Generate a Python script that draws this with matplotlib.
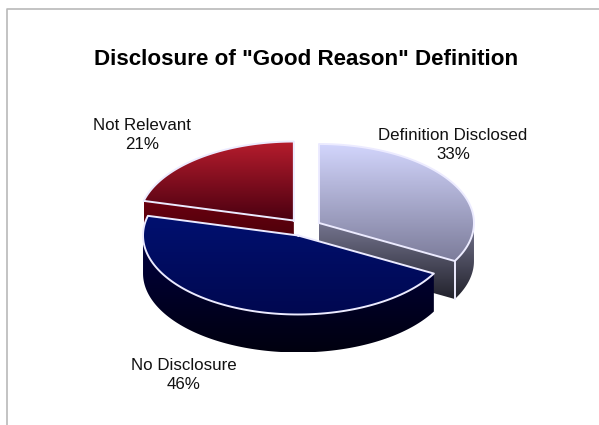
import matplotlib
matplotlib.use("Agg")
import matplotlib.pyplot as plt
import numpy as np
from matplotlib.colors import LinearSegmentedColormap
from matplotlib.patches import Polygon

title = 'Disclosure of "Good Reason" Definition'
labels = ["Definition Disclosed", "No Disclosure", "Not Relevant"]
shares = [33, 46, 21]

# top colour, bottom colour of each gradient
top_faces = [("#d3d6fd", "#7c7c9a"), ("#001070", "#000850"), ("#b51c2d", "#4a0010")]
side_faces = [("#75758f", "#22222c"), ("#000040", "#00000f"), ("#6a0010", "#3c0006")]
edge_color = "#ecebff"

# pie shape in pixels
cx, cy = 304.3, 227.4
rx, ry = 155, 79
depth = 38
explode = 0.11

fig = plt.figure(figsize=(5.99, 4.25), dpi=100)
ax = fig.add_axes([0, 0, 1, 1])


def arc(c, t0, t1):
    t = np.radians(np.linspace(t0, t1, 120))
    return np.column_stack([c[0] + rx * np.sin(t), c[1] - ry * np.cos(t)])


def shade(points, colors, zorder):
    # vertical gradient clipped to a polygon
    patch = Polygon(points, closed=True, facecolor="none", edgecolor="none", zorder=zorder)
    ax.add_patch(patch)
    cmap = LinearSegmentedColormap.from_list("g", colors)
    x0, y0 = points.min(axis=0)
    x1, y1 = points.max(axis=0)
    im = ax.imshow(np.linspace(0, 1, 256).reshape(-1, 1), cmap=cmap, aspect="auto",
                   extent=(x0, x1, y1, y0), zorder=zorder, interpolation="bilinear")
    im.set_clip_path(patch)


def outline(points, zorder):
    ax.plot(points[:, 0], points[:, 1], color=edge_color, lw=1.4, zorder=zorder,
            solid_joinstyle="round")


edges = np.cumsum([0] + shares) * 3.6
centers = []
for i in range(3):
    mid = np.radians((edges[i] + edges[i + 1]) / 2)
    centers.append((cx + explode * rx * np.sin(mid), cy - explode * ry * np.cos(mid)))

down = np.array([0, depth])

# Not Relevant: cut face, then top
c = np.array(centers[2])
rim = arc(c, edges[2], edges[2])[0]
shade(np.array([c, rim, rim + down, c + down]), side_faces[2], 1)
top = np.vstack([[c], arc(c, edges[2], edges[3])])
shade(top, top_faces[2], 2)
outline(np.vstack([top, [c]]), 3)

# Definition Disclosed: cut face, outer wall, top
c = np.array(centers[0])
rim = arc(c, edges[1], edges[1])[0]
shade(np.array([c, rim, rim + down, c + down]), side_faces[0], 4)
wall = arc(c, 90, edges[1])
shade(np.vstack([wall, (wall + down)[::-1]]), side_faces[0], 4)
top = np.vstack([[c], arc(c, edges[0], edges[1])])
shade(top, top_faces[0], 5)
outline(np.vstack([top, [c]]), 6)
outline(np.array([rim, rim + down]), 6)

# No Disclosure: outer wall, top
c = np.array(centers[1])
wall = arc(c, edges[1], 270)
shade(np.vstack([wall, (wall + down)[::-1]]), side_faces[1], 7)
top = np.vstack([[c], arc(c, edges[1], edges[2])])
shade(top, top_faces[1], 8)
outline(np.vstack([top, [c]]), 9)

# chart frame
ax.plot([6.5, 6.5, 599], [425, 8.5, 8.5], color="#b9b9b9", lw=1.2, zorder=10)

ax.text(306.5, 59, title, fontsize=16.1, fontweight="bold", family="Liberation Sans",
        ha="center", va="center", color="black")
label_pos = [(453, 145), (184, 375), (142, 135)]
for name, share, (x, y) in zip(labels, shares, label_pos):
    ax.text(x, y, "%s\n%d%%" % (name, share), fontsize=12.2, family="Liberation Sans",
            ha="center", va="center", color="#111111", linespacing=1.35)

ax.set_xlim(0, 599)
ax.set_ylim(425, 0)
ax.axis("off")
fig.savefig("out.png", dpi=100, facecolor="white")
